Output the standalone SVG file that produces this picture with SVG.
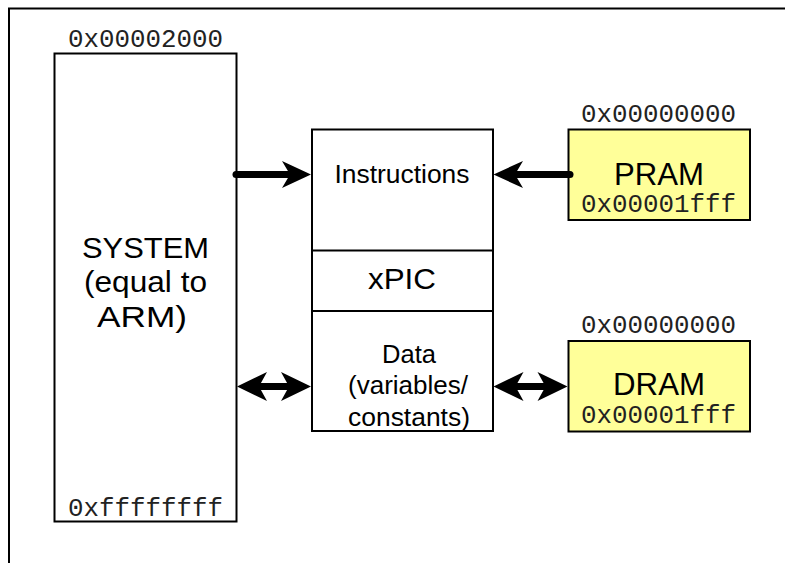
<svg xmlns="http://www.w3.org/2000/svg" width="785" height="563" viewBox="0 0 785 563">
<style>
.box{fill:#ffffff;stroke:#000;stroke-width:2}
.mem{fill:#ffff99;stroke:#000;stroke-width:2}
.sans{font-family:"Liberation Sans",Arial,sans-serif;fill:#000;text-anchor:middle}
.mono{font-family:"Liberation Mono","Courier New",monospace;fill:#222;text-anchor:middle;font-size:25px}
.line{stroke:#000;stroke-width:7;fill:none}
.head{fill:#000}
</style>
<rect width="785" height="563" fill="#fff"/>
<g id="frame"><path d="M9,563 V8.5 H785" fill="none" stroke="#000" stroke-width="2"/></g>
<g id="system">
<rect class="box" x="54.5" y="53.5" width="182" height="468"/>
<text class="mono" x="145.5" y="46.5" textLength="155" lengthAdjust="spacingAndGlyphs">0x00002000</text>
<text class="mono" x="145.5" y="515.5" textLength="155" lengthAdjust="spacingAndGlyphs">0xffffffff</text>
<text class="sans" font-size="29" x="145.5" y="257.5" textLength="127" lengthAdjust="spacingAndGlyphs">SYSTEM</text>
<text class="sans" font-size="29" x="145.5" y="292" textLength="123" lengthAdjust="spacingAndGlyphs">(equal to</text>
<text class="sans" font-size="29" x="142" y="326.5" textLength="90" lengthAdjust="spacingAndGlyphs">ARM)</text>
</g>
<g id="xpic">
<rect class="box" x="312" y="129.5" width="181" height="301.5"/>
<line x1="312" y1="250.5" x2="493" y2="250.5" stroke="#000" stroke-width="2"/>
<line x1="312" y1="311" x2="493" y2="311" stroke="#000" stroke-width="2"/>
<text class="sans" font-size="26" x="402" y="183" textLength="135" lengthAdjust="spacingAndGlyphs">Instructions</text>
<text class="sans" font-size="29" x="402" y="289" textLength="68" lengthAdjust="spacingAndGlyphs">xPIC</text>
<text class="sans" font-size="25.5" x="409" y="362.5" textLength="54" lengthAdjust="spacingAndGlyphs">Data</text>
<text class="sans" font-size="25.5" x="408" y="394" textLength="120" lengthAdjust="spacingAndGlyphs">(variables/</text>
<text class="sans" font-size="25.5" x="409" y="425.5" textLength="122" lengthAdjust="spacingAndGlyphs">constants)</text>
</g>
<g id="pram">
<rect class="mem" x="568.5" y="129.5" width="181.5" height="90.5"/>
<text class="mono" x="658.5" y="121.5" textLength="155" lengthAdjust="spacingAndGlyphs">0x00000000</text>
<text class="sans" font-size="31.5" x="659" y="184.5" textLength="90" lengthAdjust="spacingAndGlyphs">PRAM</text>
<text class="mono" x="658.5" y="211.5" textLength="155" lengthAdjust="spacingAndGlyphs">0x00001fff</text>
</g>
<g id="dram">
<rect class="mem" x="568.5" y="341" width="181.5" height="90.5"/>
<text class="mono" x="658.5" y="333" textLength="155" lengthAdjust="spacingAndGlyphs">0x00000000</text>
<text class="sans" font-size="31.5" x="659" y="395" textLength="92" lengthAdjust="spacingAndGlyphs">DRAM</text>
<text class="mono" x="658.5" y="422.5" textLength="155" lengthAdjust="spacingAndGlyphs">0x00001fff</text>
</g>
<g id="connectors">
<line class="line" x1="236" y1="174.5" x2="292" y2="174.5" stroke-linecap="round"/>
<polygon class="head" points="311,174.5 282,161 290,174.5 282,188"/>
<line class="line" x1="570" y1="174.5" x2="513" y2="174.5" stroke-linecap="round"/>
<polygon class="head" points="493.5,174.5 523,161 515,174.5 523,188"/>
<line class="line" x1="255" y1="386.5" x2="293" y2="386.5"/>
<polygon class="head" points="237,386.5 267,372 259,386.5 267,401"/>
<polygon class="head" points="311,386.5 281,372 289,386.5 281,401"/>
<line class="line" x1="512" y1="386.5" x2="549" y2="386.5"/>
<polygon class="head" points="493.5,386.5 523.5,372 515.5,386.5 523.5,401"/>
<polygon class="head" points="567.5,386.5 537.5,372 545.5,386.5 537.5,401"/>
</g>
</svg>
